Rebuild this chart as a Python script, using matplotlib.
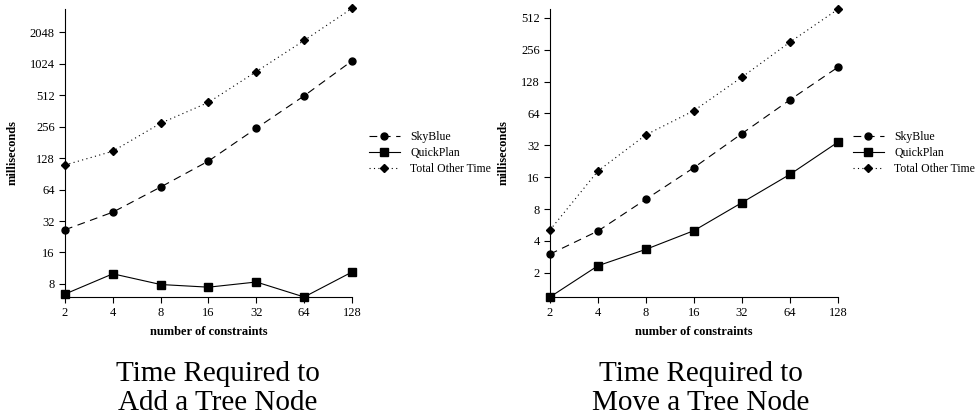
import matplotlib
matplotlib.use('Agg')
import matplotlib.pyplot as plt
from matplotlib.ticker import FixedLocator, FixedFormatter, NullLocator

plt.rcParams['font.family'] = ['Liberation Serif', 'DejaVu Serif']

# number of constraints
constraints = [2, 4, 8, 16, 32, 64, 128]

# add a tree node (ms)
add_skyblue = [26.4, 38.9, 67.7, 120, 247, 505, 1090]
add_quickplan = [6.4, 10.0, 7.9, 7.45, 8.35, 6.0, 10.4]
add_other = [110, 149, 276, 437, 862, 1710, 3470]
add_yticks = [8, 16, 32, 64, 128, 256, 512, 1024, 2048]

# move a tree node (ms)
move_skyblue = [3.0, 4.96, 9.9, 19.7, 41.3, 86, 175]
move_quickplan = [1.18, 2.33, 3.33, 5.0, 9.2, 17.0, 34.3]
move_other = [5.07, 18.3, 40.2, 68, 141, 302, 617]
move_yticks = [2, 4, 8, 16, 32, 64, 128, 256, 512]

W, H = 978, 419
fig = plt.figure(figsize=(W / 100, H / 100), dpi=100)


def make_panel(rect, sky, quick, other, yticks, ylim, legend_xy, caption_x, caption):
    ax = fig.add_axes(rect)
    ax.plot(constraints, sky, color='black', lw=0.8, ls=(0, (7, 5)),
            marker='o', ms=5, label='SkyBlue')
    ax.plot(constraints, quick, color='black', lw=0.8, ls='-',
            marker='s', ms=5.5, label='QuickPlan')
    ax.plot(constraints, other, color='black', lw=0.8, ls=(0, (1, 3)),
            marker='D', ms=3.8, label='Total Other Time')
    ax.set_xscale('log', base=2)
    ax.set_yscale('log', base=2)
    ax.set_xlim(2, 128)
    ax.set_ylim(*ylim)
    ax.xaxis.set_major_locator(FixedLocator(constraints))
    ax.xaxis.set_major_formatter(FixedFormatter([str(c) for c in constraints]))
    ax.yaxis.set_major_locator(FixedLocator(yticks))
    ax.yaxis.set_major_formatter(FixedFormatter([str(t) for t in yticks]))
    ax.xaxis.set_minor_locator(NullLocator())
    ax.yaxis.set_minor_locator(NullLocator())
    for s in ['top', 'right']:
        ax.spines[s].set_visible(False)
    for s in ['left', 'bottom']:
        ax.spines[s].set_linewidth(0.8)
    ax.tick_params(direction='out', length=4.3, width=0.8, labelsize=9, pad=3)
    for line in ax.get_lines():
        line.set_clip_on(False)
    ax.set_xlabel('number of constraints', fontsize=9, fontweight='bold', labelpad=5)
    ax.set_ylabel('milliseconds', fontsize=9, fontweight='bold', labelpad=8)
    fig.legend(handles=ax.get_lines(), loc='center left',
               bbox_to_anchor=legend_xy, frameon=False, fontsize=8.5,
               handlelength=2.6, handletextpad=0.9, labelspacing=0.35,
               borderpad=0, borderaxespad=0)
    fig.text(caption_x, 1 - 388 / H, caption, ha='center', va='center',
             fontsize=21, linespacing=1.15)
    return ax


make_panel([65 / W, 1 - 297 / H, 287 / W, 288 / H],
           add_skyblue, add_quickplan, add_other, add_yticks, (6.0, 3420),
           (369 / W, 1 - 153 / H), 218 / W, 'Time Required to\nAdd a Tree Node')
make_panel([550 / W, 1 - 297 / H, 288 / W, 288 / H],
           move_skyblue, move_quickplan, move_other, move_yticks, (1.18, 620),
           (853 / W, 1 - 153 / H), 701 / W, 'Time Required to\nMove a Tree Node')

fig.savefig('out.png', dpi=100)
